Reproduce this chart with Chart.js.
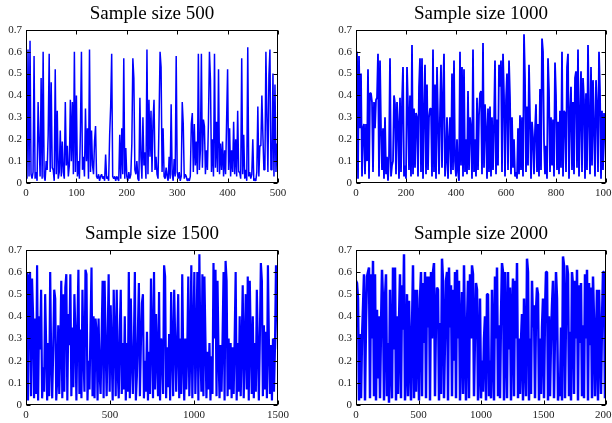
<!DOCTYPE html>
<html>
<head>
<meta charset="utf-8">
<script src="https://cdn.jsdelivr.net/npm/chart.js@4"></script>
<style>
  body { margin: 0; width: 612px; height: 423px; overflow: hidden; background: #fff; }
  canvas { position: absolute; }
</style>
</head>
<body>
<canvas id="c500" width="304" height="205" style="left:0px;top:0px;width:304px;height:205px"></canvas>
<canvas id="c1000" width="302" height="205" style="left:330px;top:0px;width:302px;height:205px"></canvas>
<canvas id="c1500" width="304" height="207" style="left:0px;top:220px;width:304px;height:207px"></canvas>
<canvas id="c2000" width="302" height="207" style="left:330px;top:220px;width:302px;height:207px"></canvas>
<script>
// Valores (um ponto a cada 2, 4, 6 e 8 amostras)
const size500 = [
  0.17,0.02,0.61,0.03,0.65,0.04,0.02,0.05,0.58,0.02,
  0.05,0.01,0.37,0.19,0.03,0.48,0.02,0.60,0.03,0.01,
  0.10,0.06,0.22,0.59,0.05,0.46,0.07,0.06,0.01,0.52,
  0.04,0.33,0.02,0.05,0.24,0.03,0.19,0.05,0.02,0.37,
  0.08,0.17,0.03,0.08,0.38,0.10,0.37,0.04,0.60,0.05,
  0.40,0.03,0.10,0.02,0.24,0.60,0.06,0.12,0.03,0.34,
  0.10,0.25,0.02,0.61,0.05,0.24,0.08,0.04,0.19,0.26,
  0.03,0.02,0.04,0.01,0.03,0.04,0.02,0.03,0.01,0.13,
  0.02,0.03,0.01,0.22,0.35,0.59,0.03,0.02,0.03,0.01,
  0.03,0.02,0.01,0.22,0.02,0.25,0.04,0.57,0.02,0.16,
  0.03,0.01,0.05,0.02,0.04,0.18,0.57,0.48,0.06,0.04,
  0.10,0.02,0.01,0.39,0.12,0.02,0.30,0.08,0.14,0.02,
  0.61,0.04,0.38,0.12,0.33,0.05,0.28,0.38,0.06,0.12,
  0.04,0.02,0.29,0.60,0.53,0.05,0.25,0.03,0.02,0.07,
  0.03,0.01,0.12,0.02,0.36,0.04,0.01,0.11,0.03,0.58,
  0.05,0.02,0.05,0.01,0.03,0.37,0.27,0.02,0.04,0.03,
  0.01,0.02,0.01,0.03,0.27,0.32,0.05,0.27,0.08,0.19,
  0.04,0.59,0.06,0.15,0.59,0.07,0.29,0.26,0.04,0.15,
  0.06,0.28,0.60,0.47,0.05,0.20,0.03,0.59,0.07,0.28,
  0.05,0.52,0.04,0.18,0.06,0.19,0.03,0.15,0.04,0.28,
  0.52,0.06,0.25,0.03,0.15,0.05,0.28,0.04,0.20,0.03,
  0.33,0.05,0.05,0.02,0.57,0.04,0.22,0.02,0.06,0.01,
  0.62,0.03,0.05,0.02,0.04,0.20,0.01,0.02,0.01,0.05,
  0.35,0.03,0.17,0.17,0.40,0.22,0.06,0.06,0.60,0.30,
  0.05,0.49,0.61,0.06,0.06,0.50,0.03,0.45,0.05,0.18,
  0.15
];

const size1000 = [
  0.59,0.60,0.02,0.58,0.25,0.50,0.03,0.25,0.27,0.04,
  0.27,0.10,0.52,0.02,0.41,0.41,0.37,0.05,0.37,0.25,
  0.38,0.39,0.59,0.03,0.56,0.25,0.06,0.25,0.02,0.30,
  0.04,0.12,0.01,0.12,0.57,0.03,0.08,0.10,0.40,0.36,
  0.04,0.37,0.27,0.02,0.39,0.05,0.37,0.53,0.03,0.08,
  0.02,0.53,0.35,0.06,0.40,0.03,0.63,0.04,0.34,0.07,
  0.32,0.30,0.03,0.44,0.57,0.05,0.57,0.02,0.32,0.54,
  0.04,0.45,0.06,0.30,0.34,0.34,0.03,0.61,0.05,0.45,
  0.02,0.53,0.28,0.04,0.32,0.54,0.07,0.40,0.59,0.03,
  0.10,0.30,0.02,0.20,0.30,0.04,0.50,0.06,0.56,0.10,
  0.03,0.20,0.05,0.01,0.60,0.08,0.53,0.03,0.52,0.05,
  0.20,0.04,0.42,0.06,0.30,0.25,0.02,0.61,0.05,0.20,
  0.03,0.39,0.06,0.31,0.41,0.42,0.04,0.64,0.07,0.36,
  0.25,0.02,0.34,0.05,0.35,0.03,0.30,0.06,0.27,0.56,
  0.04,0.29,0.08,0.54,0.44,0.56,0.05,0.59,0.40,0.03,
  0.38,0.50,0.06,0.56,0.39,0.04,0.30,0.07,0.20,0.03,
  0.05,0.02,0.25,0.04,0.31,0.06,0.30,0.03,0.68,0.48,
  0.05,0.35,0.08,0.54,0.30,0.02,0.28,0.21,0.04,0.24,
  0.36,0.05,0.27,0.03,0.43,0.06,0.66,0.60,0.19,0.04,
  0.17,0.02,0.57,0.42,0.05,0.30,0.08,0.29,0.03,0.55,
  0.40,0.06,0.28,0.04,0.33,0.07,0.60,0.03,0.33,0.32,
  0.05,0.53,0.59,0.02,0.32,0.44,0.06,0.37,0.04,0.48,
  0.51,0.07,0.61,0.03,0.30,0.51,0.05,0.48,0.38,0.02,
  0.41,0.06,0.63,0.30,0.04,0.53,0.08,0.47,0.25,0.03,
  0.47,0.35,0.05,0.60,0.42,0.02,0.33,0.06,0.32,0.26,
  0.07
];

const size1500 = [
  0.18,0.60,0.02,0.58,0.60,0.04,0.57,0.41,0.03,0.39,
  0.05,0.63,0.02,0.40,0.25,0.52,0.03,0.17,0.06,0.50,
  0.27,0.02,0.28,0.04,0.60,0.20,0.03,0.25,0.52,0.48,
  0.02,0.12,0.36,0.05,0.26,0.56,0.03,0.50,0.06,0.53,
  0.59,0.02,0.41,0.27,0.59,0.04,0.35,0.08,0.50,0.33,
  0.02,0.35,0.61,0.05,0.34,0.03,0.52,0.23,0.06,0.61,
  0.59,0.02,0.20,0.07,0.35,0.62,0.04,0.40,0.03,0.39,
  0.33,0.02,0.39,0.15,0.05,0.30,0.56,0.03,0.56,0.27,
  0.04,0.30,0.59,0.06,0.45,0.23,0.02,0.52,0.30,0.04,
  0.52,0.15,0.03,0.33,0.52,0.05,0.28,0.07,0.40,0.02,
  0.28,0.06,0.60,0.03,0.48,0.22,0.05,0.26,0.60,0.02,
  0.13,0.33,0.55,0.04,0.28,0.46,0.50,0.03,0.20,0.06,
  0.33,0.02,0.24,0.05,0.57,0.30,0.03,0.60,0.07,0.41,
  0.22,0.04,0.51,0.02,0.30,0.27,0.05,0.63,0.58,0.03,
  0.26,0.08,0.32,0.02,0.51,0.25,0.04,0.52,0.30,0.06,
  0.28,0.50,0.03,0.30,0.05,0.59,0.21,0.02,0.30,0.07,
  0.25,0.58,0.04,0.23,0.63,0.03,0.30,0.60,0.05,0.27,
  0.60,0.02,0.68,0.25,0.06,0.59,0.04,0.58,0.30,0.03,
  0.24,0.07,0.28,0.02,0.22,0.05,0.64,0.30,0.61,0.04,
  0.56,0.23,0.03,0.27,0.06,0.30,0.60,0.02,0.65,0.56,
  0.04,0.30,0.07,0.28,0.03,0.26,0.05,0.30,0.60,0.02,
  0.28,0.06,0.40,0.04,0.27,0.54,0.03,0.25,0.50,0.07,
  0.58,0.02,0.56,0.28,0.05,0.40,0.03,0.28,0.06,0.52,
  0.27,0.02,0.30,0.64,0.56,0.04,0.36,0.07,0.33,0.03,
  0.63,0.28,0.05,0.27,0.02,0.30,0.06,0.26,0.63,0.52,
  0.25
];

const size2000 = [
  0.56,0.55,0.48,0.02,0.32,0.03,0.30,0.44,0.59,0.02,
  0.38,0.58,0.60,0.62,0.03,0.59,0.30,0.65,0.04,0.59,
  0.02,0.43,0.12,0.40,0.03,0.35,0.61,0.47,0.02,0.48,
  0.59,0.04,0.28,0.01,0.52,0.20,0.03,0.62,0.25,0.62,
  0.02,0.40,0.05,0.38,0.59,0.03,0.54,0.34,0.68,0.02,
  0.19,0.50,0.04,0.47,0.25,0.02,0.34,0.63,0.03,0.52,
  0.06,0.52,0.30,0.02,0.48,0.60,0.04,0.55,0.28,0.60,
  0.03,0.58,0.35,0.58,0.02,0.60,0.30,0.60,0.64,0.04,
  0.40,0.53,0.52,0.02,0.37,0.05,0.66,0.56,0.03,0.30,
  0.56,0.60,0.02,0.62,0.35,0.54,0.04,0.52,0.20,0.60,
  0.03,0.61,0.30,0.56,0.02,0.33,0.51,0.05,0.63,0.28,
  0.02,0.36,0.56,0.03,0.59,0.30,0.63,0.59,0.04,0.32,
  0.55,0.52,0.02,0.20,0.48,0.03,0.20,0.06,0.30,0.40,
  0.02,0.50,0.50,0.04,0.20,0.03,0.52,0.28,0.02,0.58,
  0.30,0.62,0.04,0.36,0.03,0.40,0.64,0.60,0.02,0.60,
  0.33,0.03,0.60,0.25,0.53,0.02,0.40,0.57,0.04,0.56,
  0.30,0.64,0.03,0.30,0.05,0.29,0.41,0.02,0.48,0.24,
  0.04,0.66,0.60,0.02,0.30,0.05,0.56,0.35,0.45,0.03,
  0.42,0.53,0.50,0.02,0.30,0.05,0.35,0.48,0.03,0.42,
  0.60,0.60,0.02,0.40,0.04,0.30,0.45,0.56,0.03,0.33,
  0.60,0.48,0.02,0.10,0.04,0.35,0.02,0.67,0.63,0.03,
  0.40,0.63,0.59,0.04,0.33,0.02,0.60,0.54,0.05,0.56,
  0.30,0.61,0.02,0.54,0.28,0.55,0.04,0.36,0.03,0.59,
  0.30,0.61,0.02,0.55,0.27,0.53,0.03,0.58,0.38,0.04,
  0.28,0.52,0.02,0.52,0.30,0.05,0.38,0.60,0.60,0.03,
  0.54
];

// Marcas dos eixos
const yTicks = [0, 0.1, 0.2, 0.3, 0.4, 0.5, 0.6, 0.7];
const xTicks500 = [0, 100, 200, 300, 400, 500];
const xTicks1000 = [0, 200, 400, 600, 800, 1000];
const xTicks1500 = [0, 500, 1000, 1500];
const xTicks2000 = [0, 500, 1000, 1500, 2000];

const SERIF = "'Liberation Serif', 'Times New Roman', serif";

// Caixa em volta do grafico com marcas para dentro (estilo MATLAB)
const axesBox = {
  id: 'axesBox',
  afterDraw(chart) {
    const { ctx, chartArea: a, scales: { x, y } } = chart;
    const L = Math.round(a.left) + 0.5, R = Math.round(a.right) - 0.5;
    const T = Math.round(a.top) + 0.5, B = Math.round(a.bottom) - 0.5;
    const len = 4;
    ctx.save();
    ctx.strokeStyle = '#000';
    ctx.lineWidth = 1;
    ctx.strokeRect(L, T, R - L, B - T);
    ctx.beginPath();
    x.ticks.forEach(t => {
      const px = Math.round(x.getPixelForValue(t.value)) + 0.5;
      ctx.moveTo(px, B); ctx.lineTo(px, B - len);
      ctx.moveTo(px, T); ctx.lineTo(px, T + len);
    });
    y.ticks.forEach(t => {
      const py = Math.round(y.getPixelForValue(t.value)) + 0.5;
      ctx.moveTo(L, py); ctx.lineTo(L + len, py);
      ctx.moveTo(R, py); ctx.lineTo(R - len, py);
    });
    ctx.stroke();
    ctx.restore();
  }
};

function makePanel(id, title, values, step, xTicks, lineWidth) {
  // cada valor fica na sua posicao de amostra
  const points = values.map((v, i) => ({ x: i * step, y: v }));
  const tickFont = { family: SERIF, size: 11 };
  return new Chart(document.getElementById(id), {
    type: 'line',
    data: {
      datasets: [{
        data: points,
        borderColor: '#0000ff',
        borderWidth: lineWidth,
        borderJoinStyle: 'bevel',
        pointRadius: 0,
        tension: 0
      }]
    },
    options: {
      responsive: false,
      animation: false,
      events: [],
      layout: { padding: 0 },
      plugins: {
        legend: { display: false },
        tooltip: { enabled: false },
        title: {
          display: true,
          text: title,
          color: '#000',
          font: { family: SERIF, size: 19, weight: 'normal' },
          padding: { top: 3, bottom: 4 }
        }
      },
      scales: {
        x: {
          type: 'linear',
          min: 0,
          max: xTicks[xTicks.length - 1],
          grid: { display: false, drawTicks: false },
          border: { display: false },
          afterBuildTicks: s => { s.ticks = xTicks.map(v => ({ value: v })); },
          afterFit: s => { s.height = 22; },
          ticks: { font: tickFont, color: '#222', padding: 4, maxRotation: 0, autoSkip: false, callback: v => String(v) }
        },
        y: {
          min: 0,
          max: 0.7,
          grid: { display: false, drawTicks: false },
          border: { display: false },
          afterBuildTicks: s => { s.ticks = yTicks.map(v => ({ value: v })); },
          afterFit: s => { s.width = 26; },
          ticks: { font: tickFont, color: '#222', padding: 4, callback: v => String(v) }
        },
        // eixo vazio a direita, so para o titulo ficar centrado no grafico
        yRight: {
          position: 'right',
          min: 0,
          max: 0.7,
          grid: { display: false, drawTicks: false },
          border: { display: false },
          ticks: { display: false },
          afterFit: s => { s.width = 26; }
        }
      }
    },
    plugins: [axesBox]
  });
}

makePanel('c500', 'Sample size 500', size500, 2, xTicks500, 1.5);
makePanel('c1000', 'Sample size 1000', size1000, 4, xTicks1000, 1.8);
makePanel('c1500', 'Sample size 1500', size1500, 6, xTicks1500, 2.2);
makePanel('c2000', 'Sample size 2000', size2000, 8, xTicks2000, 2.5);
</script>
</body>
</html>
